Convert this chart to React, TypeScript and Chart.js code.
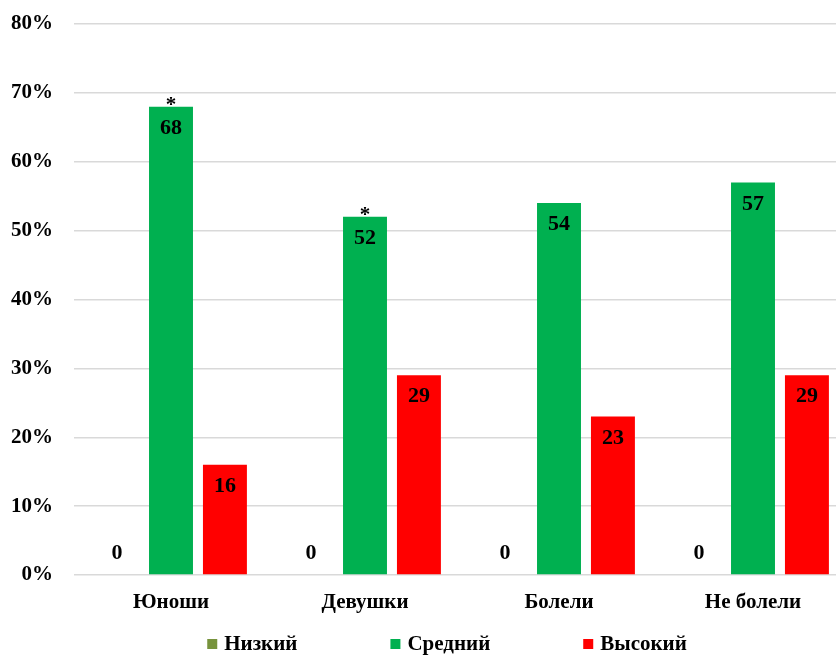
import React, { useEffect, useRef } from "react";
import { Chart, registerables } from "chart.js";

Chart.register(...registerables);

// Groups along the x axis
const categories = ["Юноши", "Девушки", "Болели", "Не болели"];

// Share of respondents per level, %
const lowValues = [0, 0, 0, 0];
const midValues = [68, 52, 54, 57];
const highValues = [16, 29, 23, 29];

// Significance marks placed above the "Средний" bars
const midMarks = ["*", "*", "", ""];

const seriesNames = ["Низкий", "Средний", "Высокий"];
const seriesColors = ["#77933c", "#00b050", "#ff0000"];

const yTicks = [0, 10, 20, 30, 40, 50, 60, 70, 80];

const FONT_FAMILY = "'Liberation Serif', 'Times New Roman', serif";

// Value labels inside the bar tops, plus the significance asterisks
const valueLabels = {
  id: "valueLabels",
  afterDatasetsDraw(chart: any) {
    const { ctx } = chart;
    ctx.save();
    ctx.fillStyle = "#000";
    ctx.textAlign = "center";
    chart.data.datasets.forEach((ds: any, di: number) => {
      const meta = chart.getDatasetMeta(di);
      meta.data.forEach((bar: any, i: number) => {
        const v = ds.data[i];
        const base = bar.base;
        ctx.font = `bold 22px ${FONT_FAMILY}`;
        ctx.textBaseline = "middle";
        const y = v > 0 ? bar.y + 21.5 : base - 21.5;
        ctx.fillText(String(v), bar.x, y);
        const marks = ds.marks as string[] | undefined;
        if (marks && marks[i]) {
          ctx.font = `bold 21px ${FONT_FAMILY}`;
          ctx.textBaseline = "alphabetic";
          ctx.fillText(marks[i], bar.x, bar.y + 4);
        }
      });
    });
    ctx.restore();
  },
};

// Legend row at the bottom of the canvas
const bottomLegend = {
  id: "bottomLegend",
  afterDraw(chart: any) {
    const { ctx, width, height } = chart;
    const box = 10;
    const textGap = 7;
    const itemGap = 93;
    ctx.save();
    ctx.font = `bold 21px ${FONT_FAMILY}`;
    ctx.textBaseline = "middle";
    ctx.textAlign = "left";
    const items = chart.data.datasets.map((ds: any) => ({
      text: ds.label as string,
      color: ds.backgroundColor as string,
      w: box + textGap + ctx.measureText(ds.label).width,
    }));
    const total =
      items.reduce((s: number, it: any) => s + it.w, 0) + itemGap * (items.length - 1);
    let x = width / 2 - total / 2 - 2;
    const cy = height - 11;
    items.forEach((it: any) => {
      ctx.fillStyle = it.color;
      ctx.fillRect(x, cy - box / 2, box, box);
      ctx.fillStyle = "#000";
      ctx.fillText(it.text, x + box + textGap, cy + 1);
      x += it.w + itemGap;
    });
    ctx.restore();
  },
};

export default function App() {
  const canvasRef = useRef<HTMLCanvasElement | null>(null);

  useEffect(() => {
    if (!canvasRef.current) return;
    const chart = new Chart(canvasRef.current, {
      type: "bar",
      data: {
        labels: categories,
        datasets: [
          { label: seriesNames[0], data: lowValues, backgroundColor: seriesColors[0] },
          { label: seriesNames[1], data: midValues, backgroundColor: seriesColors[1], marks: midMarks } as any,
          { label: seriesNames[2], data: highValues, backgroundColor: seriesColors[2] },
        ],
      },
      options: {
        animation: false,
        responsive: false,
        devicePixelRatio: 1,
        layout: { padding: { left: 11, right: 48, top: 24, bottom: 40 } },
        datasets: {
          bar: { categoryPercentage: 0.834, barPercentage: 0.815 },
        },
        plugins: {
          legend: { display: false },
          tooltip: { enabled: false },
        },
        scales: {
          x: {
            grid: { display: false, drawTicks: false },
            border: { display: false },
            afterFit: (scale: any) => {
              scale.height = 40;
            },
            ticks: {
              color: "#000",
              padding: 15,
              font: { family: FONT_FAMILY, size: 21, weight: "bold" },
            },
          },
          y: {
            min: yTicks[0],
            max: yTicks[yTicks.length - 1],
            afterBuildTicks: (scale: any) => {
              scale.ticks = yTicks.map((v) => ({ value: v }));
            },
            afterFit: (scale: any) => {
              scale.width = 63;
              scale.paddingTop = 0;
              scale.paddingBottom = 0;
            },
            grid: { color: "#d9d9d9", lineWidth: 1.5, drawTicks: false },
            border: { display: false },
            ticks: {
              color: "#000",
              padding: 21,
              font: { family: FONT_FAMILY, size: 21, weight: "bold" },
              callback: (v: any) => `${v}%`,
            },
          },
        },
      },
      plugins: [valueLabels, bottomLegend],
    });
    return () => chart.destroy();
  }, []);

  return (
    <div
      style={{
        position: "fixed",
        left: 0,
        top: 0,
        width: 836,
        height: 655,
        overflow: "hidden",
        background: "#fff",
      }}
    >
      <canvas ref={canvasRef} width={898} height={655} style={{ display: "block" }} />
    </div>
  );
}
